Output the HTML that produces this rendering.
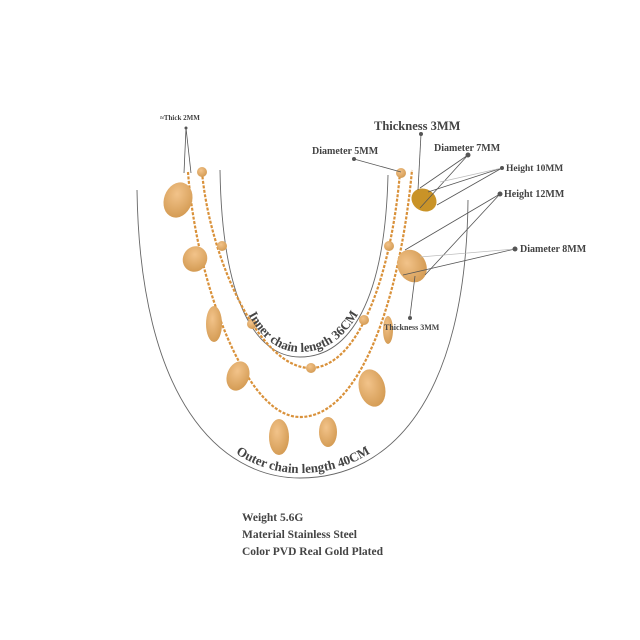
<!DOCTYPE html>
<html><head><style>
html,body{margin:0;padding:0;background:#fff;}
svg{display:block;font-family:"Liberation Serif",serif;font-weight:bold;}
</style></head><body>
<svg width="640" height="640" viewBox="0 0 640 640" xmlns="http://www.w3.org/2000/svg">
<defs>
<path id="inner" d="M225,200 C228,300 258,352 300,352 C348,352 380,300 384,200"/>
<path id="outer" d="M142,200 C146,395 222,473 300,473 C388,473 461,395 463,200"/>
<radialGradient id="g" cx="40%" cy="35%" r="70%"><stop offset="0" stop-color="#f2c38a"/><stop offset="1" stop-color="#d39a52"/></radialGradient>
</defs>
<!-- guide arcs -->
<path d="M137,190 C140,400 220,478 300,478 C390,478 466,400 468,200" fill="none" stroke="#666" stroke-width="0.9"/>
<path d="M220,170 C222,300 255,357 300,357 C350,357 385,300 388,175" fill="none" stroke="#666" stroke-width="0.9"/>
<!-- chains -->
<path d="M188,172 C196,280 245,417 300,417 C360,417 400,300 412,170" fill="none" stroke="#d9913a" stroke-width="2.2" stroke-dasharray="3 1.5"/>
<path d="M202,172 C210,260 260,368 310,368 C360,368 392,270 400,172" fill="none" stroke="#d9913a" stroke-width="2.2" stroke-dasharray="3 1.5"/>
<g fill="url(#g)">
<circle cx="202" cy="172" r="5"/><circle cx="222" cy="246" r="5"/><circle cx="252" cy="324" r="5"/><circle cx="311" cy="368" r="5"/><circle cx="364" cy="320" r="5"/><circle cx="389" cy="246" r="5"/><circle cx="401" cy="173" r="5"/>
<ellipse cx="178" cy="200" rx="14" ry="18" transform="rotate(20 178 200)"/>
<ellipse cx="195" cy="259" rx="12" ry="13" transform="rotate(30 195 259)"/>
<ellipse cx="214" cy="324" rx="8" ry="18"/>
<ellipse cx="238" cy="376" rx="11" ry="15" transform="rotate(20 238 376)"/>
<ellipse cx="279" cy="437" rx="10" ry="18"/>
<ellipse cx="328" cy="432" rx="9" ry="15"/>
<ellipse cx="372" cy="388" rx="13" ry="19" transform="rotate(-15 372 388)"/>
<ellipse cx="388" cy="330" rx="5" ry="14"/>
<ellipse cx="412" cy="266" rx="14" ry="17" transform="rotate(-30 412 266)"/>
<ellipse cx="424" cy="200" rx="13" ry="11" transform="rotate(30 424 200)" fill="#c99327"/>
</g>
<!-- leader lines -->
<g stroke="#555" stroke-width="0.8" fill="none">
<path d="M186,128 L184,173 M186,128 L191,173"/>
<path d="M354,159 L401,172"/>
<path d="M421,134 L418,190"/>
<path d="M468,155 L420,188 M468,155 L420,208"/>
<path d="M502,168 L428,192 M502,168 L437,205"/>
<path d="M500,194 L405,250 M500,194 L425,275"/>
<path d="M515,249 L403,275"/>
<path d="M410,316 L415,276"/>
</g>
<g stroke="#bbb" stroke-width="0.7"><path d="M502,168 L440,182 M515,249 L420,257"/></g>
<g fill="#555">
<circle cx="186" cy="128" r="1.5"/><circle cx="354" cy="159" r="2"/><circle cx="421" cy="134" r="2"/><circle cx="468" cy="155" r="2.5"/><circle cx="502" cy="168" r="2"/><circle cx="500" cy="194" r="2.5"/><circle cx="515" cy="249" r="2.5"/><circle cx="410" cy="318" r="2"/>
</g>
<g fill="#444">
<text x="160" y="120" font-size="7">≈Thick 2MM</text>
<text x="374" y="130" font-size="12.5">Thickness 3MM</text>
<text x="312" y="154" font-size="10">Diameter 5MM</text>
<text x="434" y="151" font-size="10">Diameter 7MM</text>
<text x="506" y="171" font-size="9.5">Height 10MM</text>
<text x="504" y="197" font-size="10">Height 12MM</text>
<text x="520" y="252" font-size="10">Diameter 8MM</text>
<text x="384" y="330" font-size="8">Thickness 3MM</text>
<text font-size="13" text-anchor="middle"><textPath href="#inner" startOffset="50%">Inner chain length 36CM</textPath></text>
<text font-size="13" text-anchor="middle"><textPath href="#outer" startOffset="50%">Outer chain length 40CM</textPath></text>
<text x="242" y="521" font-size="11.5">Weight 5.6G</text>
<text x="242" y="538" font-size="11.5">Material Stainless Steel</text>
<text x="242" y="555" font-size="11.5">Color PVD Real Gold Plated</text>
</g>
</svg>
</body></html>
